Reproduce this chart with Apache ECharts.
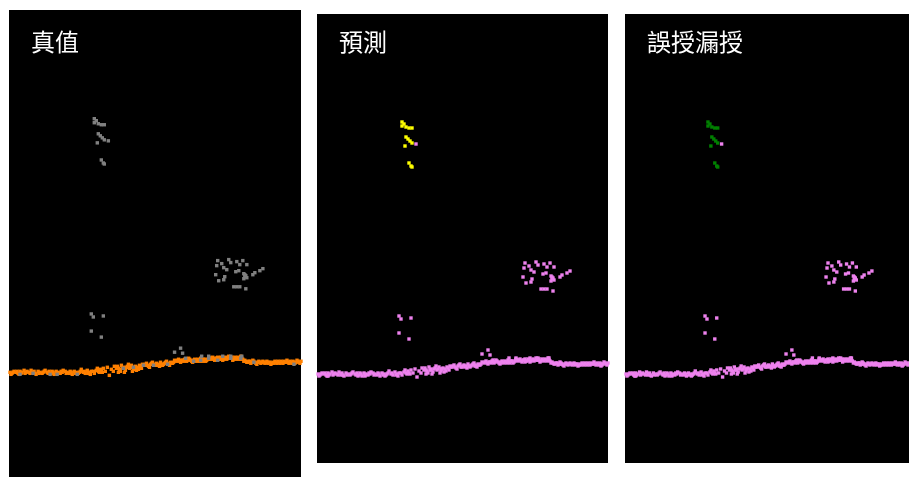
<!DOCTYPE html>
<html>
<head>
<meta charset="utf-8">
<script src="https://cdn.jsdelivr.net/npm/echarts@6/dist/echarts.min.js"></script>
<style>
  html, body { margin: 0; padding: 0; background: #ffffff; }
  #chart { width: 909px; height: 477px; }
</style>
</head>
<body>
<div id="chart"></div>
<script>
// Side-view point cloud slice, coordinates in metres [x, z]
const panelTitles = ['真值', '預測', '誤授漏授'];

// Pole-like object high above the ground
const poleTop = [
  [8.5, 34.1], [8.7, 33.9], [8.5, 33.7], [8.9, 33.6], [9.2, 33.5], [9.5, 33.5],
  [8.9, 32.6], [9.1, 32.4], [9.3, 32.2], [9.5, 32.0], [8.8, 31.7],
  [9.2, 30.0], [9.4, 29.7], [9.5, 29.6]
];
const poleOutlier = [[9.9, 31.9]];

// Sparse returns below the pole
const midPts = [[8.2, 14.7], [8.4, 14.4], [9.4, 14.5], [8.2, 13.0], [9.2, 12.4]];

// Vegetation / object cluster on the right
const rightCluster = [
  [20.8, 20.0], [21.2, 19.7], [21.9, 20.1], [22.1, 19.8], [22.7, 19.9], [23.3, 20.0],
  [23.0, 19.6], [23.7, 19.6], [20.7, 19.5], [21.4, 19.3], [21.7, 19.1], [22.6, 18.9],
  [22.9, 19.0], [23.4, 18.7], [23.6, 18.5], [23.4, 18.2], [23.7, 18.3], [24.3, 18.6],
  [24.5, 18.8], [25.0, 19.0], [25.3, 19.2], [20.6, 18.6], [21.5, 18.4], [21.4, 18.1],
  [20.9, 18.0], [22.4, 17.4], [22.7, 17.4], [23.0, 17.4], [23.6, 17.2],
  [23.5, 18.4], [23.5, 18.6]
];

// Small bumps just above the ground surface
const bumpPts = [
  [16.5, 10.9], [17.1, 11.3], [17.3, 10.8], [17.6, 10.3], [19.2, 10.5],
  [19.9, 10.5], [21.3, 10.5], [22.1, 10.5], [23.2, 10.5]
];

// Non-ground returns lying on the ground band
const groundOther = [
  [1.1, 8.7], [2.4, 8.8], [4.1, 8.7], [4.8, 8.7], [6.8, 8.7],
  [11.4, 9.3], [12.4, 9.4], [13.4, 9.6], [14.4, 9.6], [15.8, 9.7],
  [18.4, 10.0], [19.1, 10.1], [19.9, 10.3], [20.8, 10.1], [22.1, 10.3],
  [23.1, 10.3], [24.4, 9.9], [28.4, 9.7]
];

// Ground surface
const groundPts = [
  [0.1, 8.9], [0.3, 8.8], [0.5, 9.0], [0.7, 8.9], [0.9, 8.8], [1.1, 9.0], [1.3, 8.9],
  [1.6, 8.8], [1.8, 9.0], [2.0, 8.9], [2.2, 9.1], [2.4, 8.9], [2.6, 8.8], [2.9, 9.0],
  [3.1, 8.9], [3.3, 8.8], [3.5, 9.0], [3.8, 8.9], [4.0, 9.0], [4.2, 8.8], [4.4, 8.9],
  [4.7, 9.0], [4.9, 8.9], [5.1, 8.8], [5.3, 8.9], [5.6, 9.0], [5.8, 8.9], [6.0, 8.8],
  [6.2, 8.9], [6.5, 9.0], [6.7, 8.9], [6.9, 8.8], [7.1, 9.0], [7.4, 8.9], [7.6, 8.8],
  [7.8, 9.1], [8.0, 8.9], [8.2, 9.0], [8.5, 8.8], [8.7, 9.1], [8.9, 9.0], [9.1, 9.2],
  [9.3, 8.9],
  [0.2, 8.7], [1.0, 8.7], [1.5, 9.1], [2.7, 8.7], [3.6, 9.1], [4.5, 8.7], [5.4, 9.1],
  [6.3, 8.7], [7.2, 9.2], [8.1, 8.7], [8.8, 9.3],
  [0.4, 8.9], [0.8, 9.0], [1.2, 8.8], [1.7, 8.9], [2.1, 8.8], [2.5, 9.0], [3.0, 8.8],
  [3.4, 8.9], [3.9, 8.8], [4.3, 9.0], [4.8, 8.8], [5.2, 9.0], [5.7, 8.8], [6.1, 9.0],
  [6.6, 8.8], [7.0, 8.9], [7.5, 9.0], [7.9, 8.8], [8.4, 9.0], [9.0, 8.9], [9.2, 9.0],
  [9.4, 9.3], [9.6, 9.0], [9.8, 9.4], [10.0, 8.6], [10.2, 9.2], [10.4, 9.0], [10.5, 9.5],
  [10.7, 9.3],
  [10.8, 9.5], [11.0, 9.2], [11.2, 9.6], [11.4, 9.4], [11.6, 9.1], [11.8, 9.5], [12.0, 9.3],
  [12.2, 9.6], [12.4, 9.2], [12.6, 9.5], [12.8, 9.4], [13.0, 9.6], [13.2, 9.3], [11.1, 9.0],
  [11.9, 9.7], [12.7, 9.1], [13.3, 9.7], [10.9, 8.9], [11.5, 8.9], [12.3, 9.0],
  [10.9, 9.3], [11.3, 9.3], [11.7, 9.4], [12.1, 9.4], [12.5, 9.4], [12.9, 9.2], [13.1, 9.5],
  [13.5, 9.6], [13.7, 9.8], [13.9, 9.5], [14.1, 9.7], [14.3, 9.9], [14.5, 9.6], [14.7, 9.8],
  [14.9, 9.7], [15.1, 9.9], [15.3, 9.6], [15.5, 9.8], [15.7, 10.0], [15.9, 9.7], [16.1, 9.9],
  [16.3, 9.8], [16.5, 10.1], [14.0, 9.4], [15.0, 9.5], [16.0, 9.6],
  [13.6, 9.7], [13.8, 9.6], [14.2, 9.8], [14.6, 9.7], [14.8, 9.6], [15.2, 9.7], [15.4, 9.7],
  [15.6, 9.9], [15.8, 9.8], [16.2, 9.8], [16.4, 9.9],
  [16.7, 10.0], [16.9, 10.2], [17.1, 9.9], [17.3, 10.1], [17.5, 10.2], [17.7, 10.0],
  [17.9, 10.3], [18.1, 10.1], [18.3, 9.9], [18.5, 10.2], [18.7, 10.0], [18.9, 10.1],
  [19.1, 10.3], [19.3, 10.0], [19.5, 10.2], [19.7, 10.1], [19.9, 10.4],
  [16.8, 10.1], [17.0, 10.0], [17.2, 10.1], [17.4, 10.0], [17.6, 10.1], [17.8, 10.1],
  [18.0, 10.2], [18.2, 10.0], [18.4, 10.1], [18.6, 10.1], [18.8, 10.2], [19.0, 10.0],
  [19.2, 10.1], [19.4, 10.2], [19.6, 10.0], [19.8, 10.2],
  [20.1, 10.2], [20.3, 10.4], [20.5, 10.1], [20.7, 10.3], [20.9, 10.2], [21.1, 10.4],
  [21.3, 10.1], [21.5, 10.3], [21.7, 10.2], [21.9, 10.5], [22.1, 10.3], [22.3, 10.1],
  [22.5, 10.4], [22.7, 10.2], [22.9, 10.3], [23.1, 10.5], [23.3, 10.2],
  [20.0, 10.3], [20.2, 10.3], [20.4, 10.2], [20.6, 10.3], [20.8, 10.4], [21.0, 10.2],
  [21.2, 10.3], [21.4, 10.2], [21.6, 10.4], [21.8, 10.3], [22.0, 10.3], [22.2, 10.4],
  [22.4, 10.2], [22.6, 10.3], [22.8, 10.4], [23.0, 10.2], [23.2, 10.3],
  [23.5, 10.1], [23.7, 9.9], [23.9, 10.0], [24.1, 9.8], [24.3, 10.1], [24.5, 9.9],
  [24.7, 9.7], [24.9, 10.0], [25.1, 9.8], [25.3, 10.0],
  [23.4, 10.0], [23.6, 10.0], [23.8, 9.9], [24.0, 10.0], [24.2, 9.9], [24.4, 10.0],
  [24.6, 9.8], [24.8, 9.9], [25.0, 9.9], [25.2, 9.9],
  [25.5, 9.8], [25.7, 10.0], [25.9, 9.9], [26.1, 9.7], [26.3, 9.9], [26.5, 10.0],
  [26.7, 9.8], [26.9, 9.9], [27.1, 10.0], [27.3, 9.8], [27.5, 9.9], [27.7, 10.1],
  [27.9, 9.8], [28.1, 9.9], [28.3, 10.0], [28.5, 9.8], [28.7, 10.1], [28.9, 9.9], [29.1, 10.0],
  [25.4, 9.9], [25.6, 9.9], [25.8, 9.8], [26.0, 9.9], [26.2, 9.8], [26.4, 9.8],
  [26.6, 9.9], [26.8, 10.0], [27.0, 9.8], [27.2, 9.9], [27.4, 10.0], [27.6, 9.9],
  [27.8, 9.9], [28.0, 10.0], [28.2, 9.8], [28.4, 9.9], [28.6, 9.9], [28.8, 10.0], [29.0, 9.8]
];

const COLORS = {
  other: '#808080',
  ground: '#ff8000',
  violet: '#ee82ee',
  pole: '#ffff00',
  wrong: '#008000'
};

// Panel frames in pixels and the vertical extent each one shows
const panels = [
  { left: 9,   top: 10, width: 292, height: 467, yMin: -1.5 },
  { left: 317, top: 14, width: 291, height: 449, yMin: 0 },
  { left: 625, top: 14, width: 291, height: 449, yMin: 0 }
];
const X_MAX = 29.1, Y_MAX = 44.9;

const rest = [].concat(poleOutlier, midPts, rightCluster, bumpPts, groundOther, groundPts);
const nonGroundTruth = [].concat(poleTop, poleOutlier, midPts, rightCluster, bumpPts, groundOther);

// Layers per panel: [data, colour], drawn in order
const layers = [
  [[groundPts, COLORS.ground], [nonGroundTruth, COLORS.other]],
  [[rest, COLORS.violet], [poleTop, COLORS.pole]],
  [[rest, COLORS.violet], [poleTop, COLORS.wrong]]
];

const grid = panels.map(p => ({
  left: p.left, top: p.top, width: p.width, height: p.height,
  show: true, backgroundColor: '#000000', borderWidth: 0, containLabel: false
}));
const xAxis = panels.map((p, i) => ({
  gridIndex: i, type: 'value', min: 0, max: X_MAX, show: false
}));
const yAxis = panels.map((p, i) => ({
  gridIndex: i, type: 'value', min: p.yMin, max: Y_MAX, show: false
}));
const title = panels.map((p, i) => ({
  text: panelTitles[i], left: p.left + 22, top: 30, padding: 0,
  textStyle: { color: '#ffffff', fontSize: 24, fontWeight: 'normal',
               fontFamily: '"Noto Sans CJK TC", "Noto Sans CJK SC", sans-serif' }
}));

const series = [];
layers.forEach((set, i) => {
  set.forEach(([pts, color]) => {
    series.push({
      type: 'scatter', xAxisIndex: i, yAxisIndex: i, data: pts,
      symbol: 'rect', symbolSize: 3.4, silent: true,
      itemStyle: { color: color, opacity: 1 },
      animation: false
    });
  });
});

const chart = echarts.init(document.getElementById('chart'), null, { renderer: 'canvas' });
chart.setOption({
  backgroundColor: '#ffffff',
  animation: false,
  title, grid, xAxis, yAxis, series
});
</script>
</body>
</html>
